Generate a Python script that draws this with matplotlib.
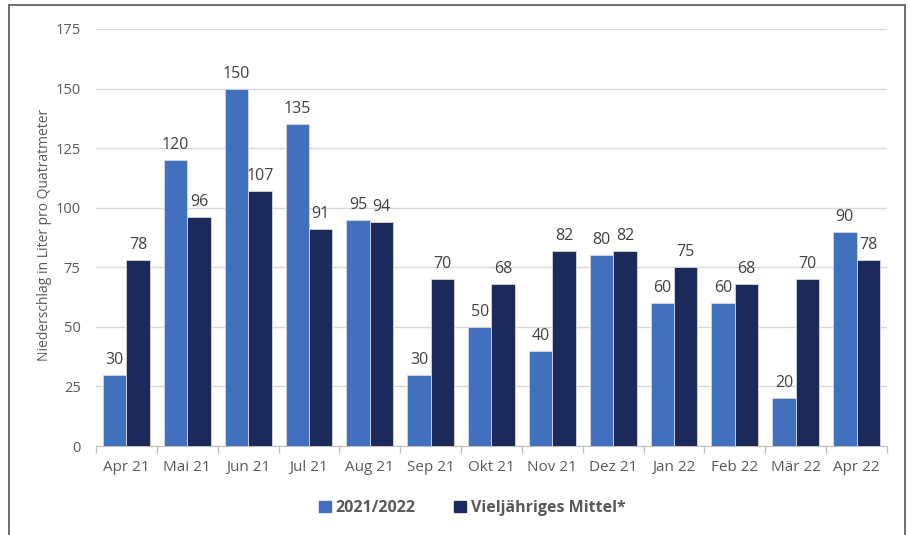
import matplotlib
matplotlib.use("Agg")
import matplotlib.pyplot as plt
import numpy as np
from matplotlib.patches import Rectangle

months = ["Apr 21", "Mai 21", "Jun 21", "Jul 21", "Aug 21", "Sep 21", "Okt 21",
          "Nov 21", "Dez 21", "Jan 22", "Feb 22", "Mär 22", "Apr 22"]
current = [30, 120, 150, 135, 95, 30, 50, 40, 80, 60, 60, 20, 90]
mittel = [78, 96, 107, 91, 94, 70, 68, 82, 82, 75, 68, 70, 78]
series_names = ["2021/2022", "Vieljähriges Mittel*"]
yticks = [0, 25, 50, 75, 100, 125, 150, 175]

c1 = "#4170BE"
c2 = "#1B2A5A"
txt = "#595959"

plt.rcParams['font.family'] = ['Open Sans', 'DejaVu Sans']

fig = plt.figure(figsize=(9.12, 5.35), dpi=100)
ax = fig.add_axes([96/912, 1-446/535, (887-96)/912, (446-29)/535])

x = np.arange(len(months))
w = 0.385
b1 = ax.bar(x - w/2, current, w, color=c1, edgecolor="#d9d9d9", linewidth=0.6, zorder=3)
b2 = ax.bar(x + w/2, mittel, w, color=c2, edgecolor="#d9d9d9", linewidth=0.6, zorder=3)
ax.bar_label(b1, padding=5, fontsize=11.5, color="#404040")
ax.bar_label(b2, padding=5, fontsize=11.5, color="#404040")

ax.set_xlim(-0.5, len(months) - 0.5)
ax.set_ylim(0, 175)
ax.set_yticks(yticks)
ax.set_yticklabels([str(v) for v in yticks], fontsize=10.5, color=txt)
ax.yaxis.grid(True, color="#d9d9d9", linewidth=1, zorder=0)
ax.tick_params(axis='y', length=0, pad=11)

ax.set_xticks(x)
ax.set_xticklabels(months, fontsize=11, color=txt)
ax.tick_params(axis='x', length=0, pad=10)
ax.set_xticks(np.arange(-0.5, len(months), 1), minor=True)
ax.tick_params(axis='x', which='minor', length=5, color="#bfbfbf", width=1)

for s in ["top", "right", "left"]:
    ax.spines[s].set_visible(False)
ax.spines["bottom"].set_color("#bfbfbf")

fig.text(45/912, 1-235/535, "Niederschlag in Liter pro Quatratmeter", rotation=90,
         fontsize=10, color=txt, ha="center", va="center")

handles = [Rectangle((0, 0), 1, 1, color=c1), Rectangle((0, 0), 1, 1, color=c2)]
leg = fig.legend(handles, series_names, loc="center", bbox_to_anchor=(472/912, 1-508/535),
                 ncol=2, frameon=False, handlelength=0.75, handleheight=0.75,
                 handletextpad=0.3, columnspacing=2.4,
                 prop={"size": 11.5, "weight": "bold"})
for t in leg.get_texts():
    t.set_color(txt)

border = Rectangle((9/912, -0.02), (905-9)/912, 1-5/535+0.02, transform=fig.transFigure,
                   fill=False, edgecolor="#555555", linewidth=1.2)
fig.patches.append(border)

fig.savefig("out.png", dpi=100, facecolor="white")
